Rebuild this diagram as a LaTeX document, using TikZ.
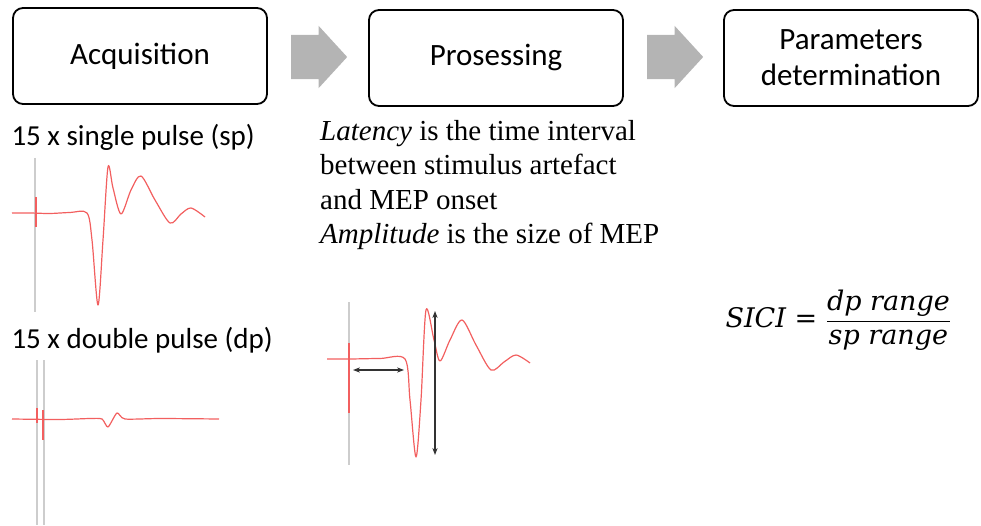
\documentclass[tikz,border=0pt]{standalone}
\usepackage{fontspec}
\setmainfont{Carlito}
\newfontfamily\serifface{Liberation Serif}
\newfontfamily\formulaface{DejaVu Serif}
\usetikzlibrary{shapes.arrows,arrows.meta}
\definecolor{emgred}{RGB}{242,95,95}
\definecolor{stimgray}{RGB}{205,205,205}
\definecolor{flowgray}{RGB}{180,180,180}
\tikzset{
  stagebox/.style={draw, line width=1.8pt, rounded corners=10pt, minimum width=254pt, minimum height=96pt, align=center, font=\fontsize{31}{36}\selectfont},
  flowarrow/.style={single arrow, fill=flowgray, draw=none, minimum height=56pt, inner xsep=0pt, inner ysep=22pt, single arrow head extend=9pt, single arrow tip angle=95},
  emg/.style={emgred, line width=1.2pt, line join=round},
  stim/.style={stimgray, line width=1.2pt},
  caption/.style={anchor=west, font=\fontsize{29}{32}\selectfont},
  measure/.style={{Stealth[length=7pt]}-{Stealth[length=7pt]}, line width=1.3pt, black!80}
}
\begin{document}
\begin{tikzpicture}[x=1pt, y=-1pt]
\useasboundingbox (0,0) rectangle (981,526);
% the three stages
\node[stagebox] at (140,56) (acq) {Acquisition};
\node[stagebox] at (496,58) (proc) {Prosessing};
\node[stagebox] at (851,58) (param) {Parameters\\determination};
\node[flowarrow] at (309,57) (step1) {};
\node[flowarrow] at (665,57) (step2) {};

% single pulse recording
\node[caption] at (8,137) (splabel) {15 x single pulse (sp)};
\draw[stim] (35,158) -- (35,312);
\draw[emg] plot[smooth, tension=0.5] coordinates {(12,213) (30,213) (50,213.5) (70,212.5) (87,213) (92,240) (98,305) (103,240) (108,167) (113,188) (121,214) (131,190) (141,176) (155,200) (170,223) (181,214) (191,208) (205,217)};
\draw[emg] (36,197) -- (36,227);

% double pulse recording
\node[caption] at (8,340) (dplabel) {15 x double pulse (dp)};
\draw[stim] (37,360) -- (37,525);
\draw[stim] (44,360) -- (44,525);
\draw[emg] plot[smooth, tension=0.4] coordinates {(12,419) (60,419.5) (90,418.5) (102,419) (108,427) (117,413) (125,419) (160,418.5) (219,419)};
\draw[emg] (37,408) -- (37,423);
\draw[emg] (43,410) -- (43,440);

% processing description
\node[anchor=north west, align=left, inner sep=0pt, font=\serifface\fontsize{29}{34.5}\selectfont] at (320,120) (defs)
  {\textit{Latency} is the time interval\\between stimulus artefact\\and MEP onset\\\textit{Amplitude} is the size of MEP};

% measured trace
\draw[stim] (349,302) -- (349,465);
\draw[emg] plot[smooth, tension=0.5] coordinates {(327,359) (350,359) (380,358.5) (405,359) (410,400) (416,457) (421,400) (426,310) (434,340) (440,361) (450,340) (462,320) (476,345) (491,370) (504,362) (516,355) (530,363)};
\draw[emg] (349,343) -- (349,413);
\coordinate (latA) at (353,370);
\coordinate (latB) at (404,370);
\coordinate (ampA) at (435,311);
\coordinate (ampB) at (435,455);
\draw[measure] (latA) -- (latB);
\draw[measure] (ampA) -- (ampB);

% SICI ratio
\node[anchor=west, font=\formulaface\fontsize{27}{32}\selectfont] at (722,320) (sici)
  {$\hbox{\itshape SICI\ = }\displaystyle\frac{\hbox{\itshape dp range}}{\hbox{\itshape sp range}}$};
\end{tikzpicture}
\end{document}
